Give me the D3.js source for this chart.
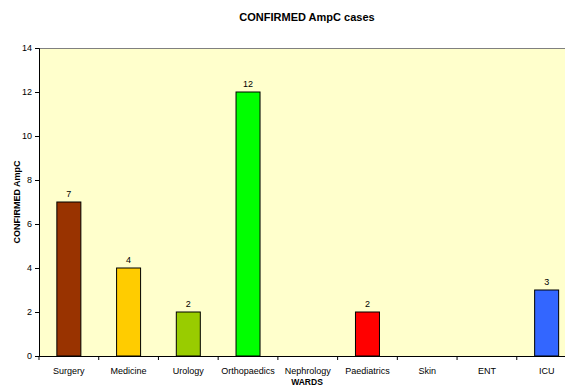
<!DOCTYPE html>
<html>
<head>
<meta charset="utf-8">
<script src="https://cdn.jsdelivr.net/npm/d3@7"></script>
<style>
  html, body { margin: 0; padding: 0; background: #ffffff; }
  svg { display: block; font-family: "Liberation Sans", Arial, sans-serif; }
</style>
</head>
<body>
<svg id="chart" width="565" height="386"></svg>
<script>
// Wards and confirmed AmpC case counts
const wards = ["Surgery", "Medicine", "Urology", "Orthopaedics", "Nephrology", "Paediatrics", "Skin", "ENT", "ICU"];
const cases = [7, 4, 2, 12, 0, 2, 0, 0, 3];
const barColors = ["#993300", "#FFCC00", "#99CC00", "#00FF00", "#3366FF", "#FF0000", "#3366FF", "#3366FF", "#3366FF"];
const yTicks = [0, 2, 4, 6, 8, 10, 12, 14];

const FONT = "'Liberation Sans', Arial, sans-serif";
const svg = d3.select("#chart");
const plot = { left: 39, top: 48, right: 576.5, bottom: 356 };

const x = d3.scaleBand().domain(wards).range([plot.left, plot.right]).paddingInner(0).paddingOuter(0);
const y = d3.scaleLinear().domain([0, 14]).range([plot.bottom, plot.top]);

// plot background
svg.append("rect")
  .attr("x", plot.left).attr("y", plot.top)
  .attr("width", plot.right - plot.left).attr("height", plot.bottom - plot.top)
  .attr("fill", "#FFFFCC");

// top frame line
svg.append("line")
  .attr("x1", plot.left).attr("x2", plot.right)
  .attr("y1", plot.top + 0.5).attr("y2", plot.top + 0.5)
  .attr("stroke", "#808080").attr("stroke-width", 1);

// bars
const barW = 24;
const bars = wards.map((w, i) => ({ ward: w, value: cases[i], color: barColors[i] })).filter(d => d.value > 0);

svg.append("g").selectAll("rect")
  .data(bars).join("rect")
  .attr("x", d => x(d.ward) + x.bandwidth() / 2 - barW / 2)
  .attr("y", d => y(d.value))
  .attr("width", barW)
  .attr("height", d => y(0) - y(d.value))
  .attr("fill", d => d.color)
  .attr("stroke", "#000000")
  .attr("stroke-width", 1);

// value labels
svg.append("g").selectAll("text")
  .data(bars).join("text")
  .attr("x", d => x(d.ward) + x.bandwidth() / 2)
  .attr("y", d => y(d.value) - 5)
  .attr("text-anchor", "middle")
  .attr("font-size", 9)
  .attr("font-family", FONT)
  .attr("fill", "#000")
  .text(d => d.value);

// y axis
const yAxis = svg.append("g")
  .attr("transform", `translate(${plot.left},0)`)
  .call(d3.axisLeft(y).tickValues(yTicks).tickSize(4).tickPadding(3).tickFormat(d3.format("d")));
yAxis.selectAll("text").attr("font-size", 9).attr("fill", "#000").attr("font-family", FONT);
yAxis.select(".domain").attr("stroke", "#000");
yAxis.selectAll(".tick line").attr("stroke", "#000");

// x axis: tick marks at band boundaries, labels centred in bands
const xAxisG = svg.append("g").attr("transform", `translate(0,${plot.bottom})`);
xAxisG.append("line")
  .attr("x1", plot.left).attr("x2", plot.right)
  .attr("y1", 0.5).attr("y2", 0.5)
  .attr("stroke", "#000");
const boundaries = wards.map(w => x(w)).concat([x(wards[wards.length - 1]) + x.bandwidth()]);
xAxisG.selectAll("line.tk")
  .data(boundaries).join("line")
  .attr("class", "tk")
  .attr("x1", d => d).attr("x2", d => d)
  .attr("y1", 0).attr("y2", 4)
  .attr("stroke", "#000");
xAxisG.selectAll("text")
  .data(wards).join("text")
  .attr("x", d => x(d) + x.bandwidth() / 2)
  .attr("y", 18)
  .attr("text-anchor", "middle")
  .attr("font-size", 9)
  .attr("font-family", FONT)
  .attr("fill", "#000")
  .text(d => d);

// title
svg.append("text")
  .attr("x", 307).attr("y", 21)
  .attr("text-anchor", "middle")
  .attr("font-size", 11).attr("font-weight", "bold")
  .attr("font-family", FONT)
  .text("CONFIRMED AmpC cases");

// axis titles
svg.append("text")
  .attr("transform", `translate(20,${(plot.top + plot.bottom) / 2}) rotate(-90)`)
  .attr("text-anchor", "middle")
  .attr("font-size", 9).attr("font-weight", "bold")
  .attr("font-family", FONT)
  .text("CONFIRMED AmpC");

svg.append("text")
  .attr("x", 307).attr("y", 385)
  .attr("text-anchor", "middle")
  .attr("font-size", 8.5).attr("font-weight", "bold")
  .attr("font-family", FONT)
  .text("WARDS");
</script>
</body>
</html>
